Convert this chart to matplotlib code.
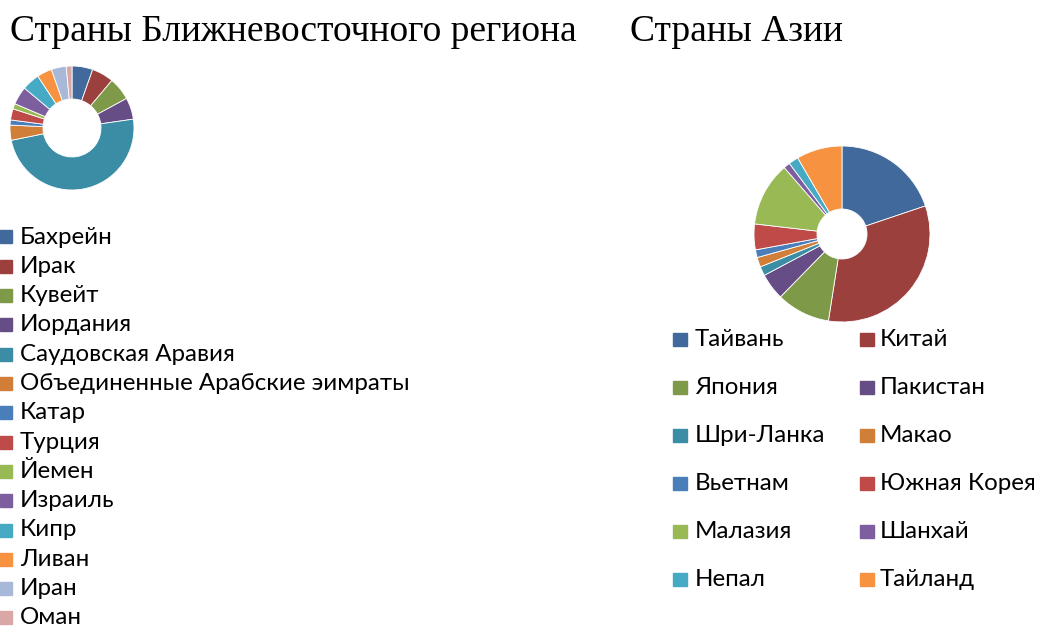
import matplotlib.pyplot as plt
from matplotlib.patches import Rectangle

# palette (Excel-like)
colors = ['#41699B', '#9C403E', '#7E9A48', '#664D85', '#3A8DA5', '#D17E38',
          '#4A7EBB', '#BE4B48', '#98B954', '#7D5FA0', '#46AAC5', '#F69240',
          '#A8B8D8', '#D9A7A6']

me_names = ['Бахрейн', 'Ирак', 'Кувейт', 'Иордания', 'Саудовская Аравия',
            'Объединенные Арабские эимраты', 'Катар', 'Турция', 'Йемен',
            'Израиль', 'Кипр', 'Ливан', 'Иран', 'Оман']
me_values = [19.5, 20.5, 21.6, 20.2, 176.8, 14.2, 4.8, 10.5, 5.0, 17.0, 16.6, 14.0, 14.0, 5.4]

asia_names = ['Тайвань', 'Китай', 'Япония', 'Пакистан', 'Шри-Ланка', 'Макао',
              'Вьетнам', 'Южная Корея', 'Малазия', 'Шанхай', 'Непал', 'Тайланд']
asia_values = [71.4, 117.5, 35.5, 17.6, 6.1, 6.4, 5.1, 17.0, 42.4, 4.3, 6.5, 30.2]

W, H = 1037, 627
fig = plt.figure(figsize=(W / 100, H / 100), dpi=100)

serif = 'Liberation Serif'
sans = 'Lato'
lfs = 17.4


def donut(cx, cy, r, hole, values, cols):
    ax = fig.add_axes([(cx - r) / W, (H - cy - r) / H, 2 * r / W, 2 * r / H])
    ax.pie(values, colors=cols, startangle=90, counterclock=False, radius=1,
           wedgeprops=dict(width=1 - hole / r, edgecolor='white', linewidth=0.6))
    ax.set_xlim(-1, 1)
    ax.set_ylim(-1, 1)
    ax.set_aspect('equal')
    ax.axis('off')


donut(72, 128, 62, 29, me_values, colors[:len(me_values)])
donut(842, 234, 88, 25, asia_values, colors[:len(asia_values)])

fig.text(10 / W, 1 - 32 / H, 'Страны Ближневосточного региона', family=serif,
         fontsize=27, va='center', ha='left')
fig.text(630 / W, 1 - 32 / H, 'Страны Азии', family=serif,
         fontsize=27, va='center', ha='left')

# left legend
for i, name in enumerate(me_names):
    y = 237 + 29.3 * i
    fig.patches.append(Rectangle((0, 1 - (y + 6.5) / H), 12 / W, 13 / H,
                                 transform=fig.transFigure, color=colors[i]))
    fig.text(20 / W, 1 - y / H, name, family=sans, fontsize=lfs, va='center', ha='left')

# right legend, two columns, row-major
for i, name in enumerate(asia_names):
    row, col = divmod(i, 2)
    y = 339 + 48 * row
    mx = [673, 860][col]
    tx = [695, 880][col]
    fig.patches.append(Rectangle((mx / W, 1 - (y + 6.5) / H), 14 / W, 13 / H,
                                 transform=fig.transFigure, color=colors[i]))
    fig.text(tx / W, 1 - y / H, name, family=sans, fontsize=lfs, va='center', ha='left')

fig.savefig('out.png', dpi=100)
